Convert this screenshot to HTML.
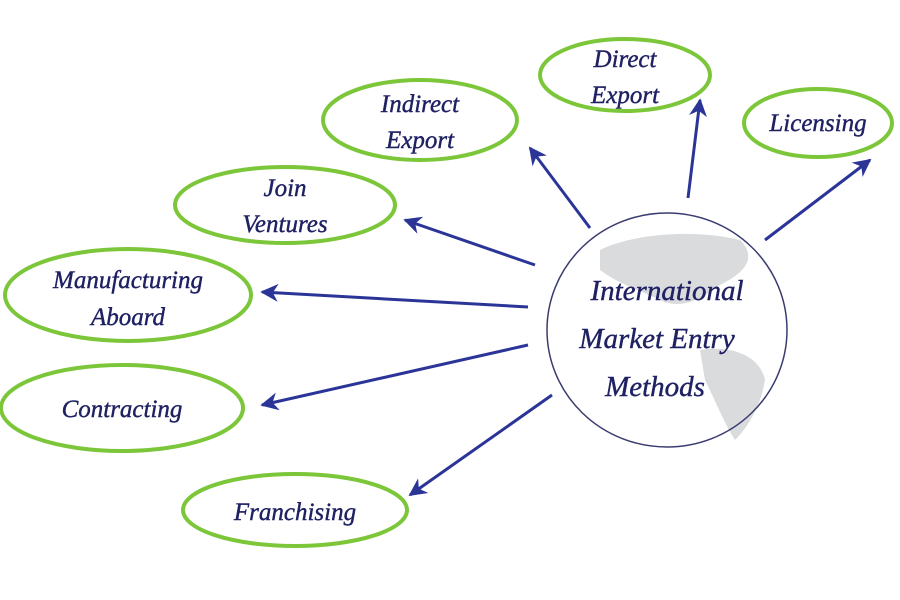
<!DOCTYPE html><html><head><style>body{margin:0;background:#fff}svg{display:block}text{font-family:"Liberation Serif",serif;font-style:italic;fill:#1f2163;stroke:#1f2163;stroke-width:0.4;text-anchor:middle}</style></head><body>
<svg width="900" height="600" viewBox="0 0 900 600">
<defs><marker id="a" viewBox="0 0 10 10" refX="9" refY="5" markerWidth="7" markerHeight="6" orient="auto" markerUnits="strokeWidth"><path d="M0,0 L10,5 L0,10 L3,5z" fill="#2b3598"/></marker></defs>
<g fill="#dadbdd">
<path d="M600,250 C630,235 690,228 740,240 C760,260 740,275 720,285 C700,300 680,310 660,300 C640,290 620,285 600,270z"/>
<path d="M700,350 C730,345 760,355 765,380 C760,410 745,430 735,440 C725,425 715,400 705,380z"/>
</g>
<ellipse cx="667" cy="330" rx="120" ry="117" fill="none" stroke="#3a3c70" stroke-width="1.5"/>
<g fill="none" stroke="#7cc63a" stroke-width="4">
<ellipse cx="625" cy="75" rx="85" ry="36"/>
<ellipse cx="420" cy="120" rx="97" ry="40"/>
<ellipse cx="818" cy="123" rx="74" ry="34"/>
<ellipse cx="285" cy="205" rx="110" ry="38"/>
<ellipse cx="128" cy="295" rx="123" ry="46"/>
<ellipse cx="122" cy="408" rx="121" ry="43"/>
<ellipse cx="295" cy="510" rx="112" ry="36"/>
</g>
<g stroke="#2b3598" stroke-width="3" marker-end="url(#a)">
<line x1="590" y1="228" x2="530" y2="148"/>
<line x1="688" y1="198" x2="700" y2="100"/>
<line x1="765" y1="240" x2="870" y2="160"/>
<line x1="535" y1="265" x2="405" y2="220"/>
<line x1="528" y1="307" x2="262" y2="292"/>
<line x1="528" y1="345" x2="262" y2="405"/>
<line x1="552" y1="395" x2="410" y2="495"/>
</g>
<g font-size="25">
<text x="625" y="67">Direct</text><text x="625" y="103">Export</text>
<text x="420" y="112">Indirect</text><text x="420" y="148">Export</text>
<text x="818" y="131">Licensing</text>
<text x="285" y="196">Join</text><text x="285" y="232">Ventures</text>
<text x="128" y="288">Manufacturing</text><text x="128" y="325">Aboard</text>
<text x="122" y="417">Contracting</text>
<text x="295" y="520">Franchising</text>
</g>
<g font-size="29">
<text x="667" y="300">International</text>
<text x="657" y="348">Market Entry</text>
<text x="655" y="396">Methods</text>
</g>
</svg></body></html>
